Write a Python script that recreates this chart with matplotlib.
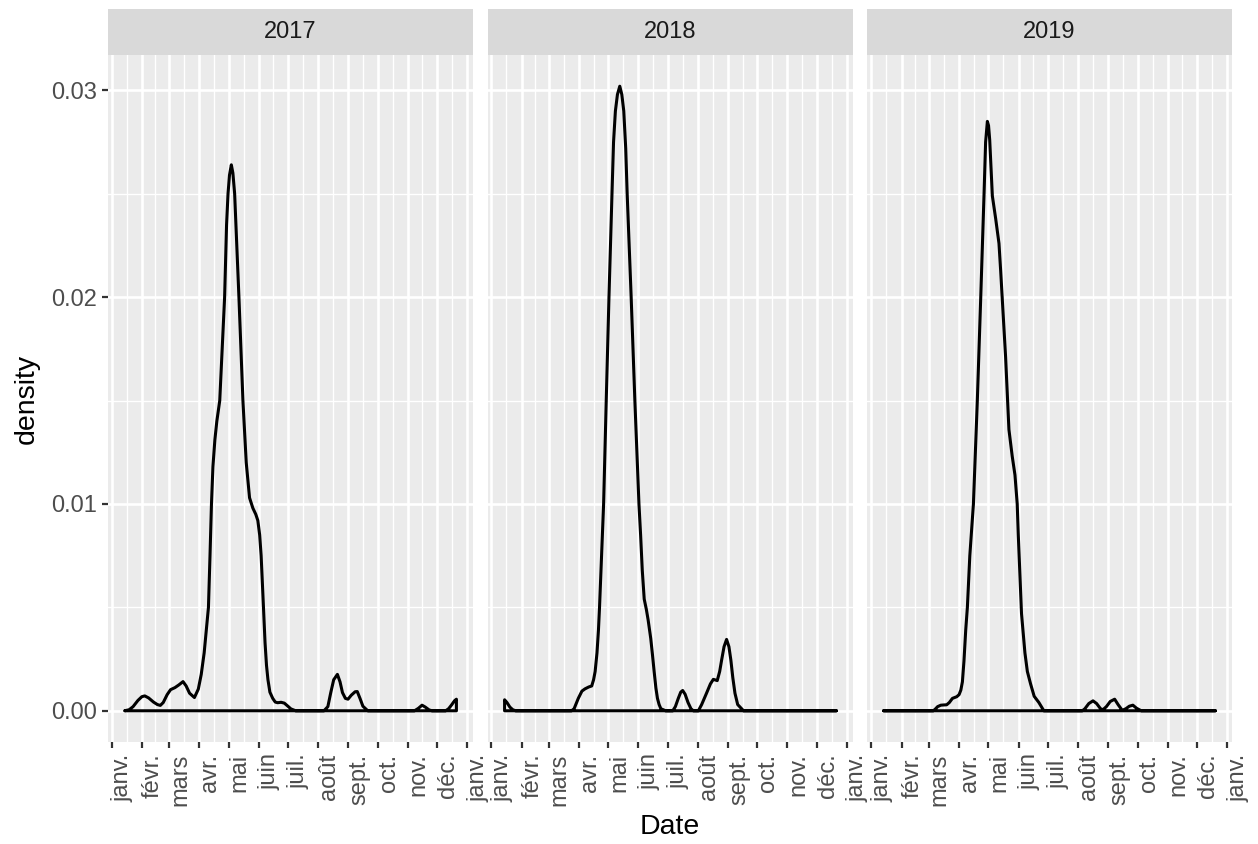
import numpy as np
import matplotlib
matplotlib.use('Agg')
import matplotlib.pyplot as plt
import matplotlib.dates as mdates

plt.rcParams['font.family'] = ['Liberation Sans', 'DejaVu Sans']

# ---------------- data ----------------
years = [2017, 2018, 2019]
month_labels = ['janv.', 'févr.', 'mars', 'avr.', 'mai', 'juin', 'juil.',
                'août', 'sept.', 'oct.', 'nov.', 'déc.', 'janv.']
y_ticks = [0.00, 0.01, 0.02, 0.03]
y_tick_labels = ['0.00', '0.01', '0.02', '0.03']

# days since 1 January of the facet year, and density values
days_2017 = [13.3, 18, 22, 27, 31, 34, 38, 43, 47, 50, 53, 57, 60.5, 65, 69, 73.3, 76.5, 80, 85, 89,
             92, 95, 97, 99.4, 101, 102.5, 104, 106, 108, 111, 113.5, 116, 118, 119.5, 121, 122.9,
             124.5, 126.3, 128.5, 130.7, 134.8, 138.2, 141.6, 145, 148, 150.1, 152, 153.5, 155.9,
             157.5, 159, 160.5, 162.5, 165.4, 168, 170.5, 174, 177.3, 181, 184.1, 189, 218, 222,
             225, 228, 231.8, 234.5, 237, 240, 242.7, 246, 250, 252.2, 255, 258, 263, 311, 315,
             318.7, 322, 326, 329, 343, 346, 349, 352, 354, 354]
dens_2017 = [0, 0.00005, 0.0002, 0.0005, 0.00068, 0.00072, 0.00062, 0.00042, 0.0003, 0.00026,
             0.0004, 0.00078, 0.00102, 0.00112, 0.00125, 0.00141, 0.0012, 0.00085, 0.00064, 0.00105,
             0.00176, 0.0028, 0.0038, 0.005, 0.0075, 0.010, 0.0118, 0.0131, 0.0140, 0.0150,
             0.0175, 0.020, 0.0235, 0.025, 0.0259, 0.0264, 0.0260, 0.025, 0.0225, 0.020,
             0.015, 0.0120, 0.0103, 0.0098, 0.0095, 0.0092, 0.0085, 0.0075, 0.0050, 0.0033,
             0.0022, 0.0015, 0.0009, 0.0006, 0.00042, 0.00039, 0.00041, 0.00037, 0.00022, 0.00009,
             0, 0, 0.0002, 0.00088, 0.0015, 0.00176, 0.0014, 0.00088, 0.0006, 0.00056,
             0.00075, 0.00092, 0.00093, 0.0006, 0.00022, 0, 0, 0.00012, 0.00027, 0.00018,
             0.00004, 0, 0, 0.0001, 0.00028, 0.00048, 0.00056, 0]

days_2018 = [13.6, 13.6, 16, 19, 22, 25, 82.4, 85, 89.3, 93, 96.2, 100, 103.1, 105, 106.6, 108.5,
             110, 111.1, 113.2, 115.3, 118, 120.8, 123.9, 125.5, 127.4, 129.5, 131.9, 134, 136, 138,
             139.5, 143.6, 147.4, 151.6, 153.3, 155, 157, 159.2, 161, 163.7, 165.5, 167.2, 169,
             170.6, 172.3, 174.1, 179, 186.3, 189, 192, 194.5, 196.5, 199, 202, 205, 207.4, 212.6,
             216, 221, 225, 228, 232, 234.5, 236.5, 239, 241.6, 244, 246, 248, 250.2, 253, 257,
             259, 354.4]
dens_2018 = [0, 0.00053, 0.0004, 0.00018, 0.00005, 0, 0, 0.0001, 0.0006, 0.00095,
             0.00106, 0.00115, 0.0012, 0.0015, 0.0019, 0.0028, 0.0039, 0.0050, 0.0075, 0.0100,
             0.0150, 0.0200, 0.0250, 0.0275, 0.0290, 0.0298, 0.0302, 0.0298, 0.0290, 0.0272,
             0.0250, 0.0200, 0.0150, 0.0100, 0.0085, 0.0068, 0.0054, 0.0049, 0.0044, 0.0035,
             0.0027, 0.0019, 0.0011, 0.0006, 0.0003, 0.0001, 0, 0, 0.0002, 0.0006,
             0.0009, 0.00098, 0.0008, 0.0004, 0.0001, 0, 0, 0.0003, 0.00085, 0.0013,
             0.00152, 0.00146, 0.0019, 0.00245, 0.0031, 0.00345, 0.0031, 0.00245, 0.0016, 0.00085,
             0.0003, 0.0001, 0, 0]

days_2019 = [12.6, 63.7, 66, 68, 71.3, 74, 77.3, 80, 83.2, 87.6, 90, 91.8, 93.4, 95, 96.8, 98.5,
             101, 104.7, 108.7, 112.2, 115.6, 117.2, 119, 120.2, 121.4, 122.8, 124.1, 127.5, 130.9,
             132.6, 134.3, 137.7, 141.1, 144.5, 147.3, 149.6, 150.7, 154, 157.5, 160, 163.3, 167,
             171.8, 176.9, 216.4, 219, 223, 227.3, 231, 235, 237.5, 241, 245, 249.5, 253, 257.3,
             261, 264.5, 268.2, 272, 276.8, 352.8]
dens_2019 = [0, 0, 0.0001, 0.0002, 0.00027, 0.00028, 0.00029, 0.0004, 0.0006, 0.00068,
             0.00078, 0.0010, 0.0014, 0.0024, 0.0039, 0.0050, 0.0075, 0.0100, 0.0150, 0.0200,
             0.0250, 0.0275, 0.0285, 0.0283, 0.0276, 0.0262, 0.0249, 0.0238, 0.0226, 0.0213,
             0.0199, 0.0171, 0.0136, 0.0123, 0.0114, 0.0100, 0.0085, 0.0047, 0.0028, 0.0019,
             0.0013, 0.0007, 0.0004, 0, 0, 0.0001, 0.00035, 0.00048, 0.00035, 0.0001,
             0.00005, 0.0002, 0.00045, 0.00056, 0.0003, 0.00002, 0.0001, 0.00022, 0.00027, 0.00012,
             0, 0]

series = {2017: (days_2017, dens_2017), 2018: (days_2018, dens_2018), 2019: (days_2019, dens_2019)}

# ---------------- styling ----------------
W, H = 1258, 844
fig = plt.figure(figsize=(W / 100, H / 100), dpi=100)
fig.patch.set_facecolor('white')

panel_left_px = [108, 488, 867]
panel_w_px = 365
panel_top_px, panel_bot_px = 55, 742
strip_top_px = 9

PANEL_BG = '#EBEBEB'
STRIP_BG = '#D9D9D9'
TICK_COL = '#4D4D4D'
TICKMARK_COL = '#333333'
MAJ_LW, MIN_LW = 1.9, 0.95
TICK_FS = 17
TITLE_FS = 20.5

ymax_all = max(max(v) for v in (dens_2017, dens_2018, dens_2019))
ylim = (-0.05 * ymax_all, ymax_all * 1.05)

for i, year in enumerate(years):
    days, dens = series[year]
    x0 = mdates.date2num(np.datetime64(f'{year}-01-01'))
    x = x0 + np.asarray(days, dtype=float)
    y = np.asarray(dens, dtype=float)

    left = panel_left_px[i] / W
    bottom = (H - panel_bot_px) / H
    width = panel_w_px / W
    height = (panel_bot_px - panel_top_px) / H
    ax = fig.add_axes([left, bottom, width, height])
    ax.set_facecolor(PANEL_BG)
    for s in ax.spines.values():
        s.set_visible(False)

    # x limits: data range with 5% expansion
    span = x.max() - x.min()
    ax.set_xlim(x.min() - 0.05 * span, x.max() + 0.05 * span)
    ax.set_ylim(*ylim)

    # month ticks
    month_dates = [np.datetime64(f'{year}-{m:02d}-01') for m in range(1, 13)] + \
                  [np.datetime64(f'{year + 1}-01-01')]
    mt = mdates.date2num(month_dates)
    ax.set_xticks(mt)
    ax.set_xticklabels(month_labels, rotation=90, ha='left', va='top',
                       color=TICK_COL, fontsize=TICK_FS)
    minor_x = (mt[:-1] + mt[1:]) / 2
    ax.set_xticks(minor_x, minor=True)

    ax.set_yticks(y_ticks)
    ax.set_yticks([0.005, 0.015, 0.025], minor=True)
    if i == 0:
        ax.set_yticklabels(y_tick_labels, color=TICK_COL, fontsize=TICK_FS)
        ax.tick_params(axis='y', which='major', direction='out', length=4.2,
                       width=1.6, color=TICKMARK_COL, pad=4)
    else:
        ax.tick_params(axis='y', which='major', length=0, labelleft=False)
    ax.tick_params(axis='x', which='major', direction='out', length=4.2,
                   width=1.6, color=TICKMARK_COL, pad=4)
    ax.tick_params(which='minor', length=0)

    ax.grid(True, which='major', color='white', lw=MAJ_LW)
    ax.grid(True, which='minor', color='white', lw=MIN_LW)
    ax.set_axisbelow(True)

    ax.fill(x, y, facecolor='none', edgecolor='black', lw=2.2, joinstyle='round', zorder=3)

    # strip
    sax = fig.add_axes([left, (H - panel_top_px) / H, width, (panel_top_px - strip_top_px) / H])
    sax.set_facecolor(STRIP_BG)
    sax.set_xticks([])
    sax.set_yticks([])
    for s in sax.spines.values():
        s.set_visible(False)
    sax.text(0.5, 0.5, str(year), ha='center', va='center', fontsize=TICK_FS,
             color='#1A1A1A', transform=sax.transAxes)

# axis titles
fig.text((108 + 1232) / 2 / W, (H - 827) / H, 'Date', ha='center', va='center', fontsize=TITLE_FS)
fig.text(27 / W, (H - 398.5) / H, 'density', ha='center', va='center', rotation=90,
         fontsize=TITLE_FS)

fig.savefig('out.png', dpi=100)
